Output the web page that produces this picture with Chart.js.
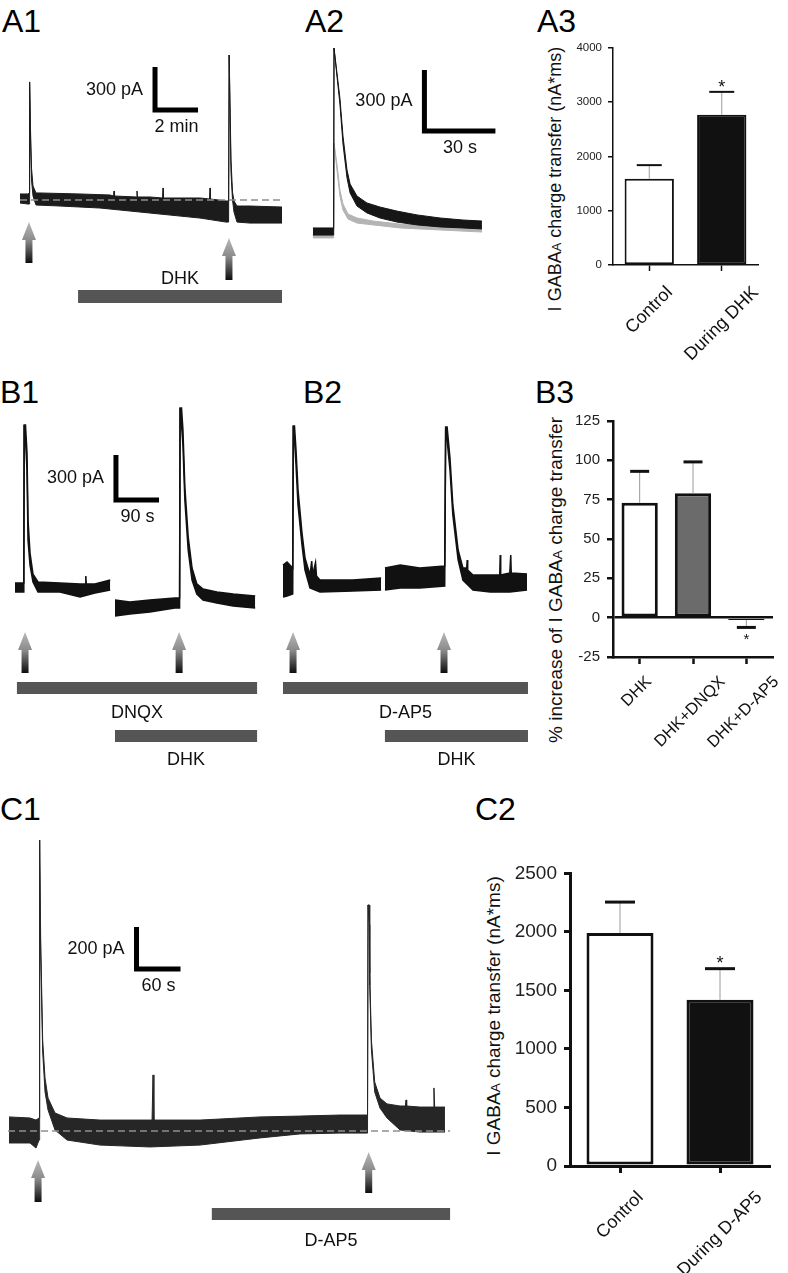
<!DOCTYPE html>
<html><head><meta charset="utf-8">
<script src="https://cdn.jsdelivr.net/npm/chart.js@4.4.0/dist/chart.umd.min.js"></script>
<style>
body{margin:0;background:#fff;width:788px;height:1273px;position:relative;overflow:hidden;font-family:"Liberation Sans",Arial,Helvetica,sans-serif;color:#111;}
canvas{position:absolute;}
.pl{position:absolute;font-size:32px;line-height:32px;color:#000;white-space:nowrap;}
.yt{position:absolute;white-space:nowrap;line-height:1;transform:translate(-50%,-50%) rotate(-90deg);color:#111;}
.yt .s{font-size:72%;}
</style></head><body>
<div class="pl" style="left:2px;top:5px">A1</div>
<div class="pl" style="left:305px;top:5px">A2</div>
<div class="pl" style="left:537px;top:5px">A3</div>
<div class="pl" style="left:0px;top:376px">B1</div>
<div class="pl" style="left:303px;top:376px">B2</div>
<div class="pl" style="left:535px;top:376px">B3</div>
<div class="pl" style="left:0px;top:793px">C1</div>
<div class="pl" style="left:475px;top:793px">C2</div>
<div class="yt" style="left:555px;top:179px;font-size:18px">I GABA<span class="s">A</span> charge transfer (nA*ms)</div>
<div class="yt" style="left:555px;top:580px;font-size:19px">% increase of I GABA<span class="s">A</span> charge transfer</div>
<div class="yt" style="left:493px;top:1016px;font-size:19px">I GABA<span class="s">A</span> charge transfer (nA*ms)</div>
<script>
// ---------------- DATA (time in s, current in pA) ----------------
// A1: upper / lower edge of the noisy current band
const a1UpT = [0,22.3,25.7,26.8,29.0,32.1,36.3,44.6,55.8,167.4,251.1,260.9,262.3,263.7,325,326.4,327.8,362.7,397.6,399,400.4,502.2,528.7,530.1,531.5,574.7,582,583.6,586,588.7,592.9,597.1,605.4,641.7,731];
const a1Up  = [42,42,49,824,524,223,98,49,49,42,35,28,63,28,21,63,21,21,14,84,14,14,7,84,7,-7,-7,1012,663,279,56,-7,-42,-42,-49];
const a1LoT = [0,22.3,25.7,26.8,29.0,32.1,36.3,44.6,111.6,223.2,362.7,502.2,574.7,582,583.6,586,588.7,592.9,597.1,605.4,641.7,731];
const a1Lo  = [-21,-28,-28,824,454,140,28,-35,-42,-56,-91,-126,-154,-154,1012,593,195,0,-84,-154,-161,-161];
const a1BaseT = [0,731];
const a1Base  = [0,0];

// A2: black (during DHK) and grey (control) overlaid responses
const a2BlackT  = [-8.9,-0.15,0,2.5,3.8,5.5,6.8,9.7,13.9,19.4,26.6,35.1,44.8,54.5,62.5];
const a2BlackUp = [15,15,900,654,467,300,231,172,138,118,98,79,64,54,49];
const a2BlackLo = [-20,-20,900,625,428,261,187,123,89,64,44,30,20,15,10];
const a2GreyT   = [-8.9,-0.15,0,1.3,2.5,3.8,5.9,9.7,16.5,27.9,44.8,62.5];
const a2GreyUp  = [10,10,433,325,202,133,84,64,49,34,25,20];
const a2GreyLo  = [-34,-34,433,295,172,103,59,39,30,15,5,-5];

// B1: two segments
const b1aUpT = [0,18.4,19.2,21.9,25.1,27.2,31.4,37.6,48.1,94,136,147,148,149,167,199];
const b1aUp  = [13,13,1067,1067,880,434,213,73,20,13,7,7,60,7,7,33];
const b1aLoT = [0,18.4,19.2,21.9,25.1,27.2,31.4,37.6,48.1,94,136,167,199];
const b1aLo  = [-47,-47,1067,967,767,300,133,20,-47,-47,-80,-53,-33];
const b1bT   = [209,240,282,334,344,345,348,351,355,362,370,380,393,422,456,502];
const b1bUp  = [-100,-113,-100,-87,-87,1181,1181,1034,654,320,113,7,-27,-47,-60,-73];
const b1bLo  = [-207,-193,-180,-153,-153,1181,1067,934,567,233,33,-60,-100,-120,-140,-153];

// B2: two segments
const b2aUpT = [0,8.4,20.3,21.5,24,27.2,31.4,39.7,46,56.4,60,62,68,70,77.3,146,205];
const b2aUp  = [133,153,113,1061,1061,900,634,347,180,67,160,67,150,60,33,33,47];
const b2aLoT = [0,8.4,20.3,21.5,24,27.2,31.4,39.7,46,56.4,77.3,146,205];
const b2aLo  = [-80,-73,-60,1061,967,800,534,267,100,-20,-47,-40,-33];
const b2bUpT = [213,245,286,338,340,343,349,355,366,376,384,385,386,397,433,453,454,455,474,476,477,510];
const b2bUp  = [113,133,113,127,1054,1054,847,534,233,113,113,167,100,67,67,67,200,67,80,200,80,73];
const b2bLoT = [213,245,286,338,340,343,349,355,366,376,397,433,474,510];
const b2bLo  = [-33,-20,-20,-7,1054,967,767,467,167,33,-33,-47,-47,-33];

// C1
const c1UpT = [1.4,30,38.2,42.3,42.7,43.6,44.6,47.3,50.5,54.6,64.1,80.5,125.5,196.5,197.8,199,261.9,343.7,398,452.8,490.4,491.1,492.7,493.4,495.7,500.2,507.4,516.9,534.7,542,542.9,543.8,562,580,581,582,596];
const c1Up  = [67,62,52,62,1385,1385,909,433,252,157,86,62,52,52,267,52,52,67,71,76,76,1076,1076,752,433,233,157,129,119,119,148,119,114,114,205,114,114];
const c1LoT = [1.4,30,38.2,42.3,42.7,43.6,44.6,47.3,50.5,54.6,64.1,80.5,125.5,193.7,261.9,343.7,398,452.8,490.4,491.1,492.7,493.4,495.7,500.2,507.4,516.9,534.7,562,596];
const c1Lo  = [-57,-57,-81,-43,1385,1290,838,376,186,100,5,-43,-67,-76,-67,-33,-14,-10,-10,1076,981,695,386,186,109,62,5,-5,-5];
const c1BaseT = [0,603];
const c1Base  = [0,0];

// Bar charts
const a3Cats = ['Control','During DHK'];
const a3Mean = [1590,2770];
const a3Sem  = [250,420];
const a3Sig  = ['','*'];
const a3Ticks = [0,1000,2000,3000,4000];

const b3Cats = ['DHK','DHK+DNQX','DHK+D-AP5'];
const b3Mean = [73,79,-1.5];
const b3Sem  = [20,20,4.7];
const b3Sig  = ['','','*'];
const b3Ticks = [-25,0,25,50,75,100,125];

const c2Cats = ['Control','During D-AP5'];
const c2Mean = [1990,1420];
const c2Sem  = [265,266];
const c2Sig  = ['','*'];
const c2Ticks = [0,500,1000,1500,2000,2500];

// ---------------- RENDERING ----------------
const FONT = '"Liberation Sans", Arial, Helvetica, sans-serif';
Chart.defaults.font.family = FONT;

function pts(t, v){ return t.map((x,i)=>({x:x, y:v[i]})); }
function mkCanvas(b){
  const c=document.createElement('canvas');
  c.width=b.width; c.height=b.height;
  c.style.left=b.left+'px'; c.style.top=b.top+'px';
  c.style.width=b.width+'px'; c.style.height=b.height+'px';
  document.body.appendChild(c); return c;
}
function bandSets(startIdx, tU, vU, tL, vL, color, order, bw){
  return [
    {data:pts(tL,vL), borderColor:color, borderWidth:bw, fill:false, order:order, pointRadius:0},
    {data:pts(tU,vU), borderColor:color, backgroundColor:color, borderWidth:bw, fill:startIdx, order:order, pointRadius:0}
  ];
}
function drawArrow(ctx,x,yTop,yBot){
  const headH=18, headW=14, shaftW=7;
  const g=ctx.createLinearGradient(0,yTop,0,yBot);
  g.addColorStop(0,'#b9b9b9'); g.addColorStop(0.45,'#8a8a8a'); g.addColorStop(1,'#0d0d0d');
  ctx.fillStyle=g;
  ctx.beginPath();
  ctx.moveTo(x,yTop); ctx.lineTo(x+headW/2,yTop+headH); ctx.lineTo(x+shaftW/2,yTop+headH);
  ctx.lineTo(x+shaftW/2,yBot); ctx.lineTo(x-shaftW/2,yBot); ctx.lineTo(x-shaftW/2,yTop+headH);
  ctx.lineTo(x-headW/2,yTop+headH); ctx.closePath(); ctx.fill();
}
function traceDecor(box, spec){
  return {id:'traceDecor', afterDatasetsDraw(chart){
    const ctx=chart.ctx, xs=chart.scales.x, ys=chart.scales.y;
    ctx.save();
    (spec.bars||[]).forEach(b=>{
      const x0=xs.getPixelForValue(b.from), x1=xs.getPixelForValue(b.to);
      ctx.fillStyle='#555'; ctx.fillRect(x0,b.top-box.top,x1-x0,b.h);
      ctx.fillStyle='#111'; ctx.font='18px '+FONT; ctx.textAlign='center'; ctx.textBaseline='middle';
      ctx.fillText(b.label,(x0+x1)/2,b.labelY-box.top);
    });
    (spec.arrows||[]).forEach(a=>drawArrow(ctx,xs.getPixelForValue(a.t),a.top-box.top,a.bottom-box.top));
    const s=spec.scale;
    if(s){
      const px=xs.getPixelForValue(s.t), py=ys.getPixelForValue(s.i);
      const pyTop=ys.getPixelForValue(s.i+s.di), pxR=xs.getPixelForValue(s.t+s.dt);
      ctx.strokeStyle='#000'; ctx.lineWidth=5; ctx.lineCap='butt'; ctx.lineJoin='miter';
      ctx.beginPath(); ctx.moveTo(px,pyTop); ctx.lineTo(px,py); ctx.lineTo(pxR,py); ctx.stroke();
      ctx.fillStyle='#111'; ctx.font='18px '+FONT; ctx.textBaseline='middle';
      ctx.textAlign='right'; ctx.fillText(s.iLabel,px-12,(py+pyTop)/2+1);
      ctx.textAlign='center'; ctx.fillText(s.tLabel,(px+pxR)/2,py+17);
    }
    ctx.restore();
  }};
}
function traceChart(box, origin, sPx, pAPx, datasets, spec){
  const c=mkCanvas(box);
  const xmin=(box.left-origin.x)*sPx, xmax=(box.left+box.width-origin.x)*sPx;
  const ymax=(origin.y-box.top)*pAPx, ymin=(origin.y-(box.top+box.height))*pAPx;
  new Chart(c,{type:'line',data:{datasets:datasets},
    options:{responsive:false,animation:false,devicePixelRatio:1,events:[],
      layout:{padding:0},
      plugins:{legend:{display:false},tooltip:{enabled:false}},
      elements:{point:{radius:0},line:{tension:0}},
      scales:{x:{type:'linear',display:false,min:xmin,max:xmax},y:{type:'linear',display:false,min:ymin,max:ymax}}},
    plugins:[traceDecor(box,spec)]});
}
function dashed(t,v,color){
  return {data:pts(t,v),borderColor:color,borderWidth:1.5,borderDash:[7,4],fill:false,order:0,pointRadius:0};
}

// A1
traceChart({left:0,top:40,width:295,height:275},{x:20,y:200},2.79,6.98,
  [dashed(a1BaseT,a1Base,'#8e8e8e')].concat(bandSets(1,a1UpT,a1Up,a1LoT,a1Lo,'#1c1c1c',1,1)),
  {bars:[{label:'DHK',from:162,to:731,top:290,h:13,labelY:279}],
   arrows:[{t:25,top:222,bottom:263},{t:583,top:238,bottom:280}],
   scale:{t:376.7,i:628,dt:120,di:300,tLabel:'2 min',iLabel:'300 pA'}});

// A2
traceChart({left:300,top:40,width:200,height:210},{x:334,y:231},0.4225,4.92,
  bandSets(0,a2BlackT,a2BlackUp,a2BlackT,a2BlackLo,'#161616',1,1)
   .concat(bandSets(2,a2GreyT,a2GreyUp,a2GreyT,a2GreyLo,'#b4b4b4',2,1)),
  {scale:{t:38.2,i:492,dt:30,di:300,tLabel:'30 s',iLabel:'300 pA'}});

// B1
traceChart({left:0,top:370,width:272,height:400},{x:15,y:585},2.09,6.67,
  bandSets(0,b1aUpT,b1aUp,b1aLoT,b1aLo,'#111',1,1.5)
   .concat(bandSets(2,b1bT,b1bUp,b1bT,b1bLo,'#111',1,1.5)),
  {bars:[{label:'DNQX',from:4,to:506,top:682,h:12,labelY:713},{label:'DHK',from:209,to:506,top:730,h:12,labelY:760}],
   arrows:[{t:21,top:632,bottom:673},{t:343,top:632,bottom:673}],
   scale:{t:211,i:567,dt:90,di:300,tLabel:'90 s',iLabel:'300 pA'}});

// B2 (same scale as B1)
traceChart({left:272,top:370,width:268,height:400},{x:283,y:585},2.09,6.67,
  bandSets(0,b2aUpT,b2aUp,b2aLoT,b2aLo,'#111',1,1.5)
   .concat(bandSets(2,b2bUpT,b2bUp,b2bLoT,b2bLo,'#111',1,1.5)),
  {bars:[{label:'D-AP5',from:0,to:512,top:682,h:12,labelY:713},{label:'DHK',from:213,to:512,top:730,h:12,labelY:760}],
   arrows:[{t:21,top:632,bottom:673},{t:336.5,top:632,bottom:673}]});

// C1
traceChart({left:0,top:800,width:465,height:460},{x:8,y:1131},1.364,4.76,
  [dashed(c1BaseT,c1Base,'#8e8e8e')].concat(bandSets(1,c1UpT,c1Up,c1LoT,c1Lo,'#262626',1,1)),
  {bars:[{label:'D-AP5',from:278,to:603,top:1208,h:12,labelY:1241}],
   arrows:[{t:41,top:1160,bottom:1202},{t:492,top:1152,bottom:1193}],
   scale:{t:175.3,i:771,dt:60,di:200,tLabel:'60 s',iLabel:'200 pA'}});

// ---------- bar charts ----------
function barChart(box, cfg){
  const c=mkCanvas(box);
  const decor={id:'barDecor',
    afterDatasetsDraw(chart){
      const ctx=chart.ctx, ys=chart.scales.y, meta=chart.getDatasetMeta(0);
      ctx.save();
      cfg.mean.forEach((m,i)=>{
        const x=meta.data[i].x, dir=m<0?-1:1;
        const yb=ys.getPixelForValue(m), ye=ys.getPixelForValue(m+dir*cfg.sem[i]);
        ctx.strokeStyle='#9a9a9a'; ctx.lineWidth=1;
        ctx.beginPath(); ctx.moveTo(x,yb); ctx.lineTo(x,ye); ctx.stroke();
        ctx.strokeStyle='#111'; ctx.lineWidth=cfg.capW;
        ctx.beginPath(); ctx.moveTo(x-cfg.capLen/2,ye); ctx.lineTo(x+cfg.capLen/2,ye); ctx.stroke();
        if(cfg.sig[i]){
          ctx.fillStyle='#111'; ctx.font=cfg.starSize+'px '+FONT; ctx.textAlign='center'; ctx.textBaseline='alphabetic';
          const cy=ye-dir*cfg.starGap;
          ctx.fillText(cfg.sig[i],x,cy+0.58*cfg.starSize);
        }
      });
      ctx.restore();
    },
    afterDraw(chart){
      const ctx=chart.ctx, xs=chart.scales.x, axisY=chart.chartArea.bottom;
      ctx.save(); ctx.font=cfg.labelSize+'px '+FONT; ctx.fillStyle='#111';
      cfg.cats.forEach((lab,i)=>{
        const x=xs.getPixelForValue(i);
        const w=ctx.measureText(lab).width, h=cfg.labelSize*0.75;
        const bx=(w+h)*Math.SQRT1_2;
        ctx.save(); ctx.translate(x+cfg.labelDx, axisY+cfg.labelGap+bx/2); ctx.rotate(-Math.PI/4);
        ctx.textAlign='center'; ctx.textBaseline='middle'; ctx.fillText(lab,0,0); ctx.restore();
      });
      ctx.restore();
    }};
  new Chart(c,{type:'bar',
    data:{labels:cfg.cats,datasets:[{data:cfg.mean,backgroundColor:cfg.colors,borderColor:'#111',borderWidth:cfg.bw,borderSkipped:false,barPercentage:cfg.bp,categoryPercentage:1}]},
    options:{responsive:false,animation:false,devicePixelRatio:1,events:[],
      layout:{padding:{top:cfg.padTop,right:cfg.padRight,left:0,bottom:0}},
      plugins:{legend:{display:false},tooltip:{enabled:false}},
      scales:{
        x:{ticks:{display:false},
           grid:{offset:false,drawOnChartArea:false,drawTicks:true,tickLength:cfg.xTick,tickWidth:cfg.tw,tickColor:'#111',color:'#111'},
           border:{display:true,color:'#111',width:cfg.aw},
           afterFit(s){s.height=cfg.xH;}},
        y:{min:cfg.ticks[0],max:cfg.ticks[cfg.ticks.length-1],
           afterBuildTicks(s){s.ticks=cfg.ticks.map(v=>({value:v}));},
           ticks:{font:{size:cfg.tickSize,family:FONT},color:'#222',padding:cfg.yPad,callback:(v)=>String(v)},
           grid:{drawOnChartArea:!!cfg.zeroLine,
                 color:(ctx)=>(cfg.zeroLine&&ctx.tick&&ctx.tick.value===0)?'#111':'rgba(0,0,0,0)',
                 lineWidth:cfg.aw,drawTicks:true,tickLength:cfg.yTick,tickWidth:cfg.tw,tickColor:'#111'},
           border:{display:true,color:'#111',width:cfg.aw},
           afterFit(s){s.width=cfg.yW;}}
      }},
    plugins:[decor]});
}

// A3
barChart({left:570,top:35,width:210,height:335},
  {cats:a3Cats,mean:a3Mean,sem:a3Sem,sig:a3Sig,ticks:a3Ticks,colors:['#ffffff','#111111'],
   bw:2,bp:0.68,padTop:10,padRight:22,xH:105,yW:43,tickSize:11.5,yPad:6,yTick:5,xTick:6,tw:1.5,aw:1.5,
   capW:2,capLen:25,starSize:18,starGap:9,labelSize:18,labelGap:20,labelDx:0});

// B3
barChart({left:570,top:405,width:218,height:365},
  {cats:b3Cats,mean:b3Mean,sem:b3Sem,sig:b3Sig,ticks:b3Ticks,colors:['#ffffff','#6b6b6b','#222222'],
   bw:3,bp:0.68,padTop:13,padRight:15,xH:113,yW:43,tickSize:15,yPad:7,yTick:6,xTick:7,tw:2.5,aw:2.5,zeroLine:true,
   capW:3,capLen:19,starSize:15,starGap:8,labelSize:16.5,labelGap:18,labelDx:-3});

// C2
barChart({left:510,top:855,width:278,height:418},
  {cats:c2Cats,mean:c2Mean,sem:c2Sem,sig:c2Sig,ticks:c2Ticks,colors:['#ffffff','#111111'],
   bw:3,bp:0.67,padTop:15,padRight:18,xH:107,yW:60,tickSize:19,yPad:7,yTick:6,xTick:7,tw:3,aw:3,
   capW:3,capLen:30,starSize:18,starGap:10,labelSize:18,labelGap:24,labelDx:0});
</script>
</body></html>
